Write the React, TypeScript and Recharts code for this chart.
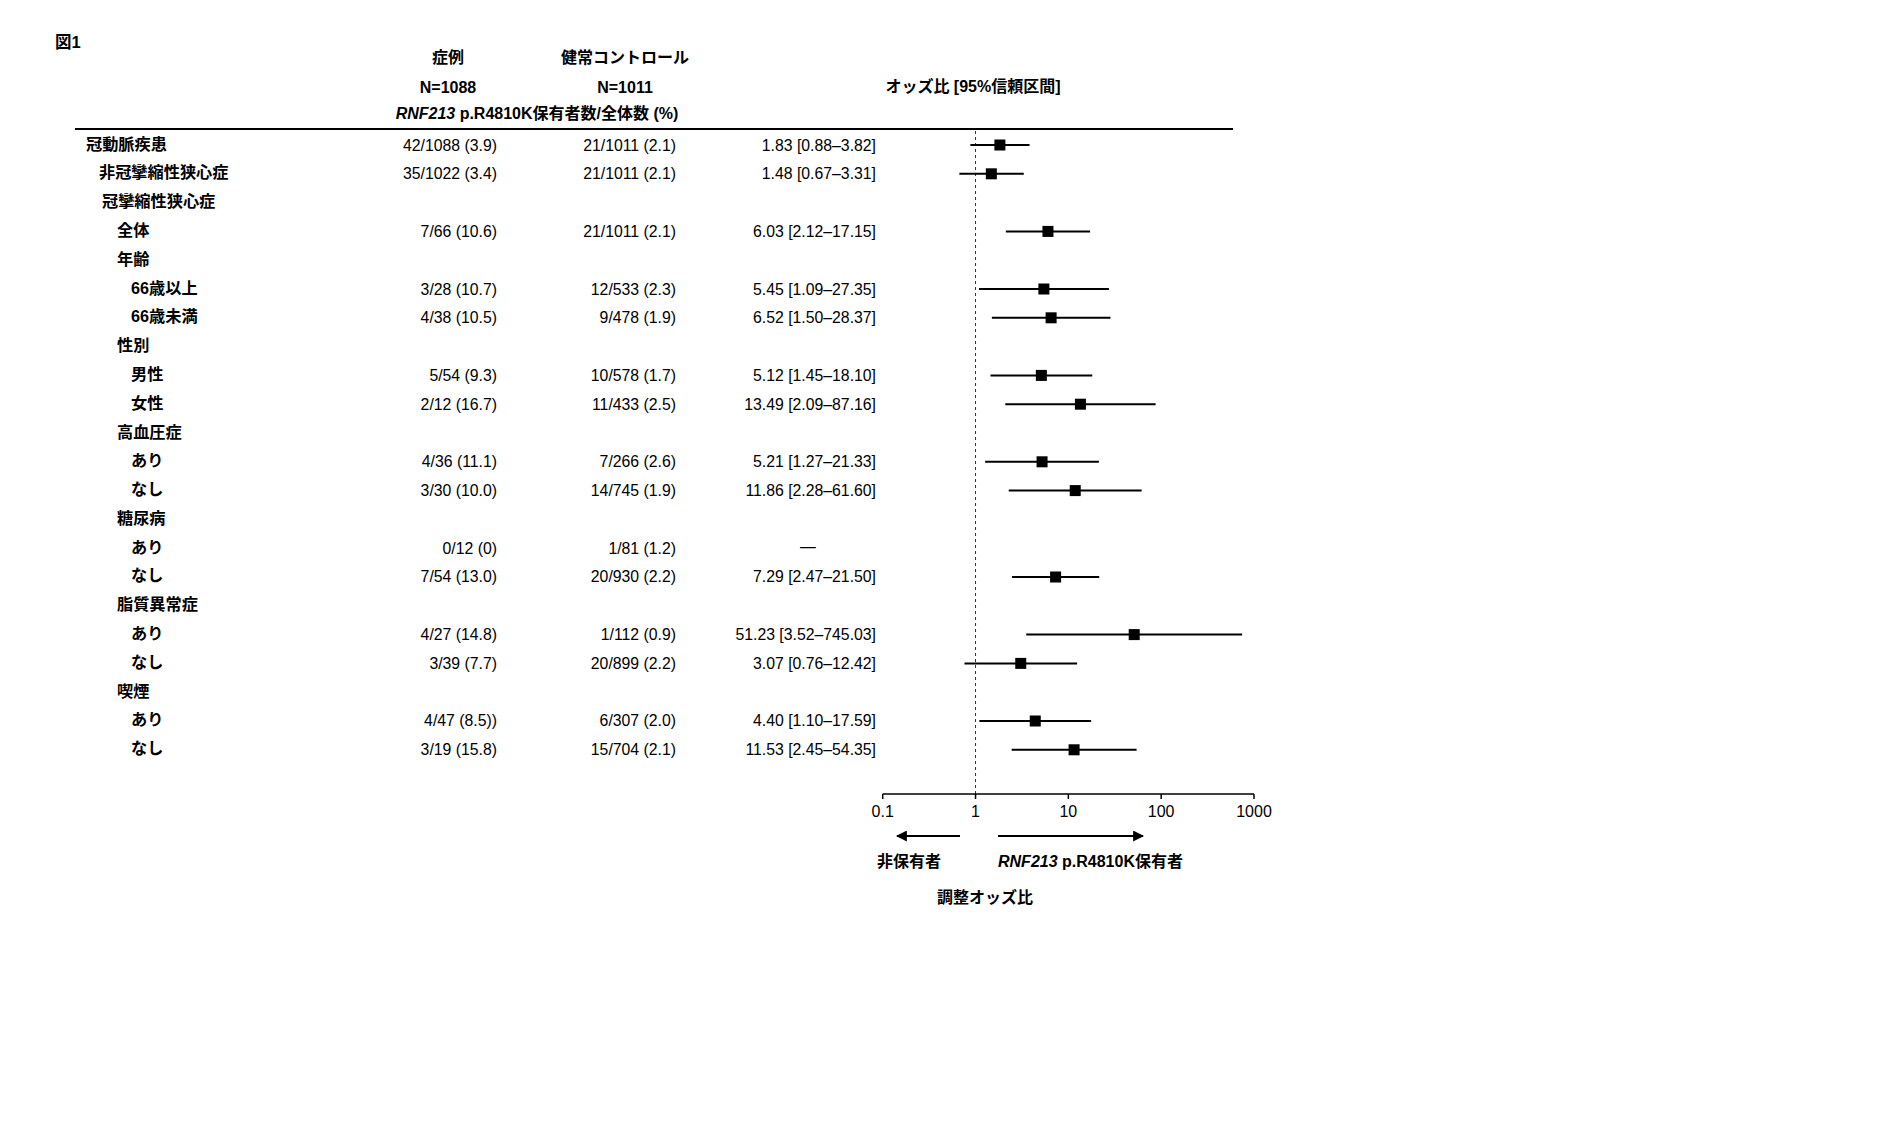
import React from 'react';
import { ScatterChart, Scatter, XAxis, YAxis, ErrorBar, ReferenceLine } from 'recharts';

// 行ラベルと字下げ（0:大分類 … 3:小分類）
const rowLabels = [
  '冠動脈疾患', '非冠攣縮性狭心症', '冠攣縮性狭心症', '全体', '年齢', '66歳以上', '66歳未満',
  '性別', '男性', '女性', '高血圧症', 'あり', 'なし', '糖尿病', 'あり', 'なし',
  '脂質異常症', 'あり', 'なし', '喫煙', 'あり', 'なし',
];
const rowIndent = [0, 1, 1.2, 2, 2, 3, 3, 2, 3, 3, 2, 3, 3, 2, 3, 3, 2, 3, 3, 2, 3, 3];

// 症例 / 健常コントロール（保有者数/全体数 (%)）
const caseCounts = [
  '42/1088 (3.9)', '35/1022 (3.4)', '', '7/66 (10.6)', '', '3/28 (10.7)', '4/38 (10.5)',
  '', '5/54 (9.3)', '2/12 (16.7)', '', '4/36 (11.1)', '3/30 (10.0)', '', '0/12 (0)', '7/54 (13.0)',
  '', '4/27 (14.8)', '3/39 (7.7)', '', '4/47 (8.5))', '3/19 (15.8)',
];
const controlCounts = [
  '21/1011 (2.1)', '21/1011 (2.1)', '', '21/1011 (2.1)', '', '12/533 (2.3)', '9/478 (1.9)',
  '', '10/578 (1.7)', '11/433 (2.5)', '', '7/266 (2.6)', '14/745 (1.9)', '', '1/81 (1.2)', '20/930 (2.2)',
  '', '1/112 (0.9)', '20/899 (2.2)', '', '6/307 (2.0)', '15/704 (2.1)',
];

// オッズ比と95%信頼区間（null = 算出なし）
const oddsRatio = [1.83, 1.48, null, 6.03, null, 5.45, 6.52, null, 5.12, 13.49, null, 5.21, 11.86, null, null, 7.29, null, 51.23, 3.07, null, 4.40, 11.53];
const ciLow = [0.88, 0.67, null, 2.12, null, 1.09, 1.50, null, 1.45, 2.09, null, 1.27, 2.28, null, null, 2.47, null, 3.52, 0.76, null, 1.10, 2.45];
const ciHigh = [3.82, 3.31, null, 17.15, null, 27.35, 28.37, null, 18.10, 87.16, null, 21.33, 61.60, null, null, 21.50, null, 745.03, 12.42, null, 17.59, 54.35];
// 糖尿病あり の行は「—」
const dashRows = [14];

const xTicks = [0.1, 1, 10, 100, 1000];

const FONT = '"Liberation Sans", Arial, "Noto Sans CJK JP", sans-serif';
const FS_NUM = 15.8;
const FS_LBL = 16.2;

const indentX: Record<number, number> = { 0: 86, 1: 99, 1.2: 102, 2: 117, 3: 131 };

const fmt = (v: number) => v.toFixed(2);

const points = oddsRatio
  .map((or, i) => (or == null ? null : {
    row: i,
    or,
    err: [or - (ciLow[i] as number), (ciHigh[i] as number) - or],
  }))
  .filter(Boolean) as { row: number; or: number; err: number[] }[];

function RowTick(props: any) {
  const { y, payload } = props;
  const i = payload.value as number;
  const or = oddsRatio[i];
  return (
    <g fontFamily={FONT} fontSize={FS_NUM} fill="#000">
      <text x={indentX[rowIndent[i]]} y={y - 1.5} dominantBaseline="central" fontWeight="bold" fontSize={FS_LBL}>
        {rowLabels[i]}
      </text>
      <text x={497} y={y} dominantBaseline="central" textAnchor="end">{caseCounts[i]}</text>
      <text x={676} y={y} dominantBaseline="central" textAnchor="end">{controlCounts[i]}</text>
      {or != null && (
        <text x={876} y={y} dominantBaseline="central" textAnchor="end">
          {`${fmt(or)} [${fmt(ciLow[i] as number)}–${fmt(ciHigh[i] as number)}]`}
        </text>
      )}
      {dashRows.includes(i) && (
        <text x={808} y={y - 2} dominantBaseline="central" textAnchor="middle">—</text>
      )}
    </g>
  );
}

const Square = (p: any) => <rect x={p.cx - 5.5} y={p.cy - 5.5} width={11} height={11} fill="#000" />;

export default function App() {
  return (
    <div style={{ position: 'relative', width: 1890, height: 1134, background: '#fff' }}>
      <style>{'body{margin:0}'}</style>
      <ScatterChart width={1890} height={1134} margin={{ top: 129, right: 636, bottom: 310, left: 0 }}>
        <XAxis
          type="number"
          dataKey="or"
          scale="log"
          domain={[0.1, 1000]}
          allowDataOverflow
          ticks={xTicks}
          tickFormatter={(v) => String(v)}
          axisLine={{ stroke: '#000', strokeWidth: 1.5 }}
          tickLine={{ stroke: '#000', strokeWidth: 1.5 }}
          tickSize={5}
          tickMargin={7}
          height={30}
          tick={{ fontSize: 16, fill: '#000', fontFamily: FONT }}
          interval={0}
        />
        <YAxis
          type="number"
          dataKey="row"
          domain={[-0.556, 22.535]}
          allowDataOverflow
          reversed
          ticks={rowLabels.map((_, i) => i)}
          interval={0}
          width={882.7}
          axisLine={false}
          tickLine={false}
          tick={(p: any) => <RowTick {...p} />}
        />
        <ReferenceLine x={1} stroke="#333" strokeWidth={1} strokeDasharray="3 3" />
        <Scatter data={points} shape={Square} isAnimationActive={false}>
          <ErrorBar dataKey="err" direction="x" width={0} stroke="#000" strokeWidth={2} isAnimationActive={false} />
        </Scatter>
      </ScatterChart>

      <svg
        width={1890}
        height={1134}
        style={{ position: 'absolute', left: 0, top: 0, pointerEvents: 'none' }}
        fontFamily={FONT}
        fontWeight="bold"
        fontSize={16}
      >
        <defs>
          <marker id="ah" viewBox="0 0 10 10" refX="9" refY="5" markerWidth="11" markerHeight="11" markerUnits="userSpaceOnUse" orient="auto">
            <path d="M0,0 L10,5 L0,10 z" fill="#000" />
          </marker>
        </defs>
        <text x={55} y={42} dominantBaseline="central" fontSize={16.5}>図1</text>
        <text x={448} y={57} textAnchor="middle" dominantBaseline="central">症例</text>
        <text x={625} y={57} textAnchor="middle" dominantBaseline="central">健常コントロール</text>
        <text x={448} y={87} textAnchor="middle" dominantBaseline="central">N=1088</text>
        <text x={625} y={87} textAnchor="middle" dominantBaseline="central">N=1011</text>
        <text x={537} y={113} textAnchor="middle" dominantBaseline="central">
          <tspan fontStyle="italic">RNF213</tspan> p.R4810K保有者数/全体数 (%)
        </text>
        <text x={973} y={86} textAnchor="middle" dominantBaseline="central">オッズ比 [95%信頼区間]</text>
        <line x1={75} x2={1233} y1={129} y2={129} stroke="#000" strokeWidth={2} />

        <line x1={960} x2={897} y1={836} y2={836} stroke="#000" strokeWidth={2} markerEnd="url(#ah)" />
        <line x1={998} x2={1143} y1={836} y2={836} stroke="#000" strokeWidth={2} markerEnd="url(#ah)" />
        <text x={877} y={861} dominantBaseline="central">非保有者</text>
        <text x={998} y={861} dominantBaseline="central">
          <tspan fontStyle="italic">RNF213</tspan> p.R4810K保有者
        </text>
        <text x={985} y={897} textAnchor="middle" dominantBaseline="central">調整オッズ比</text>
      </svg>
    </div>
  );
}
